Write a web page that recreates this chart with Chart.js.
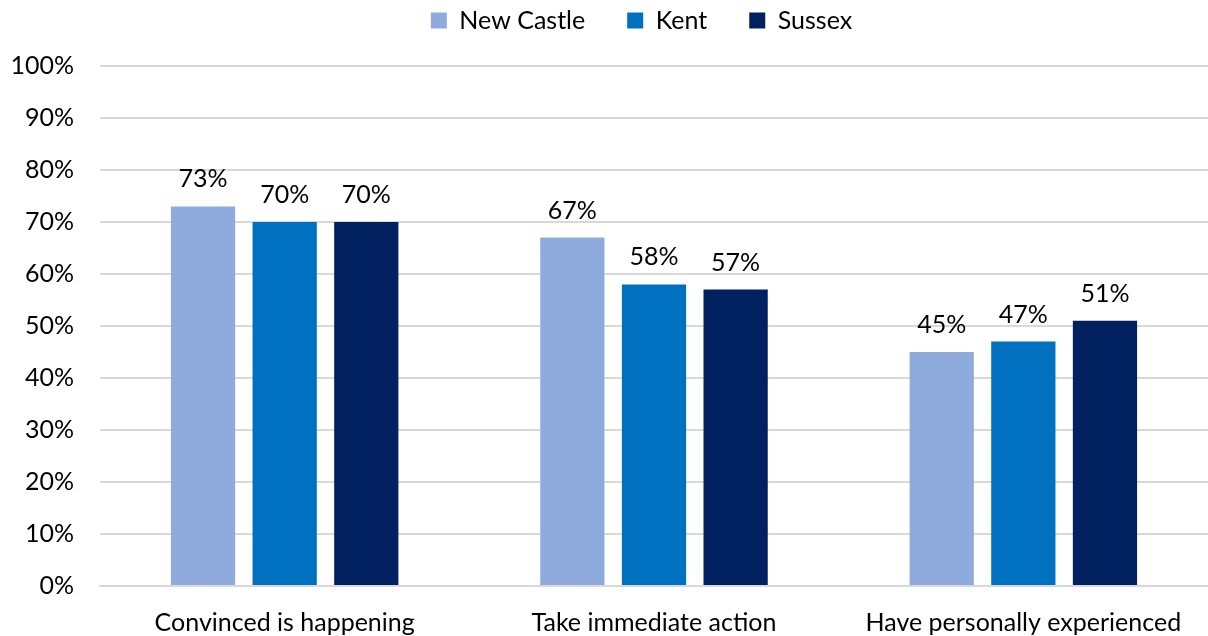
<!DOCTYPE html>
<html>
<head>
<meta charset="utf-8">
<script src="https://cdn.jsdelivr.net/npm/chart.js@4/dist/chart.umd.min.js"></script>
<style>
  html, body { margin: 0; padding: 0; background: #fff; }
  #wrap { width: 1208px; height: 636px; }
</style>
</head>
<body>
<div id="wrap"><canvas id="grafico"></canvas></div>
<script>
// categorias y valores por condado (porcentajes)
var categorias = ['Convinced is happening', 'Take immediate action', 'Have personally experienced'];
var newCastle = [73, 67, 45];
var kent = [70, 58, 47];
var sussex = [70, 57, 51];
var colores = ['#8faadc', '#0070c0', '#002060'];

var fuente = 'Lato, "Open Sans", "DejaVu Sans", sans-serif';
var tam = 25;

// dibuja el valor encima de cada barra
var etiquetasValor = {
    id: 'etiquetasValor',
    afterDatasetsDraw: function(chart) {
        var ctx = chart.ctx;
        ctx.save();
        ctx.font = tam + 'px ' + fuente;
        ctx.fillStyle = '#000';
        ctx.textAlign = 'center';
        ctx.textBaseline = 'alphabetic';
        chart.data.datasets.forEach(function(ds, i) {
            chart.getDatasetMeta(i).data.forEach(function(bar, j) {
                ctx.fillText(ds.data[j] + '%', bar.x, bar.y - 19);
            });
        });
        ctx.restore();
    }
};

// alto fijo para la leyenda y un poco corrida a la derecha
var ajusteLeyenda = {
    id: 'ajusteLeyenda',
    afterInit: function(chart) {
        var leyenda = chart.legend;
        if (!leyenda) return;
        var fitOriginal = leyenda.fit;
        leyenda.fit = function() {
            fitOriginal.call(this);
            this.height = 100;
        };
    },
    afterLayout: function(chart) {
        if (!chart.legend) return;
        chart.legend.left += 33;
        chart.legend.right += 33;
    }
};

var ctx = document.getElementById('grafico').getContext('2d');
new Chart(ctx, {
    type: 'bar',
    data: {
        labels: categorias,
        datasets: [
            { label: 'New Castle', data: newCastle, backgroundColor: colores[0] },
            { label: 'Kent', data: kent, backgroundColor: colores[1] },
            { label: 'Sussex', data: sussex, backgroundColor: colores[2] }
        ]
    },
    options: {
        responsive: true,
        maintainAspectRatio: false,
        animation: false,
        categoryPercentage: 0.663,
        barPercentage: 0.787,
        layout: { padding: { left: 0, right: -9, top: -34, bottom: 0 } },
        plugins: {
            legend: {
                position: 'top',
                labels: {
                    font: { family: fuente, size: tam },
                    color: '#000',
                    boxWidth: 16,
                    boxHeight: 16,
                    padding: 42
                }
            },
            tooltip: { enabled: false }
        },
        scales: {
            x: {
                afterFit: function(scale) { scale.height = 50; },
                grid: { display: false },
                border: { display: true, color: '#d9d9d9', width: 2 },
                ticks: {
                    font: { family: fuente, size: tam },
                    color: '#000',
                    padding: 14,
                    maxRotation: 0
                }
            },
            y: {
                min: 0,
                max: 100,
                afterFit: function(scale) { scale.width = 100; },
                ticks: {
                    stepSize: 10,
                    font: { family: fuente, size: tam },
                    color: '#000',
                    padding: 26,
                    callback: function(v) { return v + '%'; }
                },
                grid: { color: '#d9d9d9', lineWidth: 2, drawTicks: false },
                border: { display: false }
            }
        }
    },
    plugins: [etiquetasValor, ajusteLeyenda]
});
</script>
</body>
</html>
